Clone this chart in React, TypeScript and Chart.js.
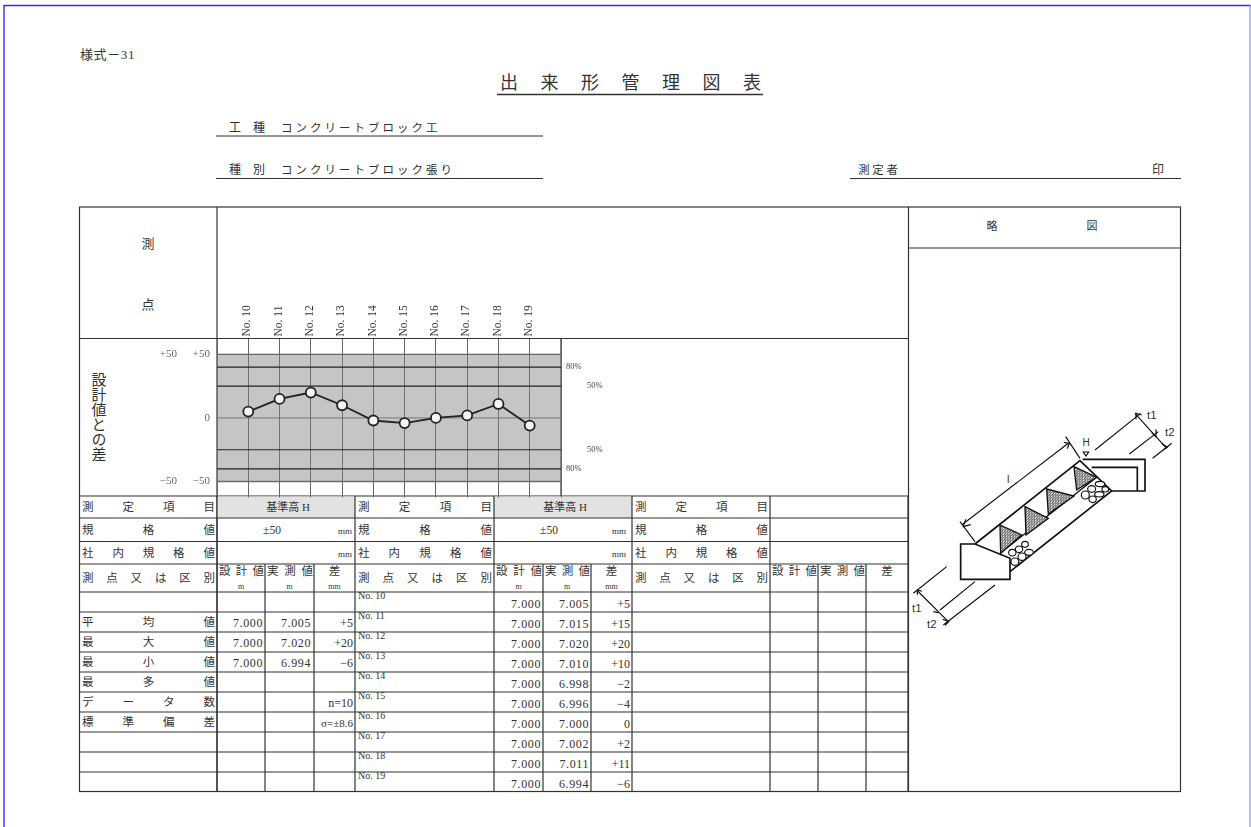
import React, { useEffect, useRef } from "react";
import { Chart, registerables } from "chart.js";

Chart.register(...registerables);

const FONT = '"Liberation Serif", "Noto Sans CJK JP", serif';
const SANS = '"Liberation Sans", sans-serif';
const INK = "#333";

const categories = ["", "No. 10", "No. 11", "No. 12", "No. 13", "No. 14", "No. 15", "No. 16", "No. 17", "No. 18", "No. 19", ""];
const differences = [null, 5, 15, 20, 10, -2, -4, 0, 2, 11, -6, null];
const limitUpper = [50, 50, 50, 50, 50, 50, 50, 50, 50, 50, 50, 50];
const limitLower = [-50, -50, -50, -50, -50, -50, -50, -50, -50, -50, -50, -50];
const band80Upper = [40, 40, 40, 40, 40, 40, 40, 40, 40, 40, 40, 40];
const band80Lower = [-40, -40, -40, -40, -40, -40, -40, -40, -40, -40, -40, -40];
const band50Upper = [25, 25, 25, 25, 25, 25, 25, 25, 25, 25, 25, 25];
const band50Lower = [-25, -25, -25, -25, -25, -25, -25, -25, -25, -25, -25, -25];
const zeroLine = [0, 0, 0, 0, 0, 0, 0, 0, 0, 0, 0, 0];

const rowLabels = ["No. 10", "No. 11", "No. 12", "No. 13", "No. 14", "No. 15", "No. 16", "No. 17", "No. 18", "No. 19"];
const designValues = ["7.000", "7.000", "7.000", "7.000", "7.000", "7.000", "7.000", "7.000", "7.000", "7.000"];
const measuredValues = ["7.005", "7.015", "7.020", "7.010", "6.998", "6.996", "7.000", "7.002", "7.011", "6.994"];
const diffLabels = ["+5", "+15", "+20", "+10", "−2", "−4", "0", "+2", "+11", "−6"];

const statNames = ["平均値", "最大値", "最小値", "最多値", "データ数", "標準偏差"];
const statDesign = ["7.000", "7.000", "7.000", "", "", ""];
const statMeasured = ["7.005", "7.020", "6.994", "", "", ""];
const statDiff = ["+5", "+20", "−6", "", "n=10", "σ=±8.6"];

const ROWS = [592, 612, 632, 652, 672, 692, 712, 732, 752, 772, 792];
const BLOCKS = [
  { a: 79, b: 217, c: 265, d: 314, e: 355 },
  { a: 355, b: 494, c: 543, d: 591, e: 632 },
  { a: 632, b: 770, c: 818, d: 866, e: 908 },
];

function Spread({ text, x1, x2, y, size = 12 }: any) {
  const chars = Array.from(text as string);
  const step = (x2 - x1 - size) / Math.max(1, chars.length - 1);
  const xs = chars.map((_, i) => (x1 + i * step).toFixed(1)).join(" ");
  return (
    <text x={xs} y={y} fontSize={size} fill={INK}>
      {text}
    </text>
  );
}

function T({ x, y, s = 12, a = "start", ls, f, children }: any) {
  return (
    <text x={x} y={y} fontSize={s} textAnchor={a} fill={INK} letterSpacing={ls} fontFamily={f}>
      {children}
    </text>
  );
}

function L({ x1, y1, x2, y2, w = 1.2, c = "#333" }: any) {
  return <line x1={x1} y1={y1} x2={x2} y2={y2} stroke={c} strokeWidth={w} />;
}

function Sheet() {
  return (
    <svg
      width={1251}
      height={827}
      style={{ position: "absolute", left: 0, top: 0, fontFamily: FONT }}
    >
      <defs>
        <pattern id="grit" width="8" height="8" patternUnits="userSpaceOnUse">
          <rect width="8" height="8" fill="#fff" />
          <circle cx="2" cy="2" r="1.9" fill="#111" />
          <circle cx="6" cy="3.5" r="1.8" fill="#111" />
          <circle cx="3.5" cy="6.5" r="1.7" fill="#111" />
        </pattern>
      </defs>
      <line x1={4} y1={5.5} x2={1251} y2={5.5} stroke="#2a2aff" strokeWidth={1.6} />
      <line x1={4} y1={5} x2={4} y2={827} stroke="#3a3aff" strokeWidth={1.5} />
      <line x1={1250} y1={5} x2={1250} y2={827} stroke="#8a8aff" strokeWidth={1.2} />

      <T x={80} y={59} s={13} ls={0.6}>様式－31</T>
      <Spread text="出来形管理図表" x1={500} x2={761} y={89} size={18} />
      <L x1={497} y1={94.5} x2={763} y2={94.5} w={1.4} />
      <Spread text="工種" x1={229} x2={265} y={132} size={12} />
      <T x={281} y={132} s={11.5} ls={3}>コンクリートブロック工</T>
      <L x1={216} y1={136} x2={543} y2={136} />
      <Spread text="種別" x1={229} x2={265} y={174} size={12} />
      <T x={281} y={174} s={11.5} ls={3}>コンクリートブロック張り</T>
      <L x1={216} y1={178.5} x2={543} y2={178.5} />
      <Spread text="測定者" x1={858} x2={898} y={174} size={11.5} />
      <T x={1152} y={174} s={12}>印</T>
      <L x1={850} y1={178.5} x2={1181} y2={178.5} />

      {/* outer frame */}
      <rect x={79.5} y={207} width={1101} height={584.5} fill="none" stroke="#333" strokeWidth={1.2} />
      <L x1={217} y1={207} x2={217} y2={792} />
      <L x1={908.5} y1={207} x2={908.5} y2={792} />
      <L x1={908} y1={248} x2={1180} y2={248} />
      <L x1={79} y1={338.5} x2={908} y2={338.5} />
      <L x1={79} y1={496} x2={908} y2={496} />
      <L x1={561} y1={338} x2={561} y2={496} />

      <T x={148} y={248} s={13} a="middle">測</T>
      <T x={148} y={309} s={13} a="middle">点</T>
      <T x={992} y={230} s={11} a="middle">略</T>
      <T x={1092} y={230} s={11} a="middle">図</T>
      <text x={96} y={417} fontSize={15} fill={INK} textAnchor="middle" style={{ writingMode: "vertical-rl" as any }} dominantBaseline="middle">
        設計値との差
      </text>

      {/* shaded measurement item cells */}
      <rect x={217} y={496.5} width={138} height={21.5} fill="#e2e2e2" />
      <rect x={494} y={496.5} width={138} height={21.5} fill="#e2e2e2" />
      <T x={288} y={511} s={11} a="middle">基準高 H</T>
      <T x={565} y={511} s={11} a="middle">基準高 H</T>
      <T x={272} y={534} s={11.5} a="middle">±50</T>
      <T x={549} y={534} s={11.5} a="middle">±50</T>
      <T x={338} y={534} s={9}>mm</T>
      <T x={338} y={557} s={9}>mm</T>
      <T x={612} y={534} s={9}>mm</T>
      <T x={612} y={557} s={9}>mm</T>

      {[518, 541.5, 564, 592, 612, 632, 652, 672, 692, 712, 732, 752, 772].map((y) => (
        <L key={y} x1={79} y1={y} x2={908} y2={y} />
      ))}

      {BLOCKS.map((b, i) => (
        <g key={i}>
          <L x1={b.e} y1={496} x2={b.e} y2={792} />
          <L x1={b.b} y1={496} x2={b.b} y2={792} />
          <L x1={b.c} y1={564} x2={b.c} y2={792} />
          <L x1={b.d} y1={564} x2={b.d} y2={792} />
          <Spread text="測定項目" x1={b.a + 3} x2={b.b - 2} y={511} size={11.5} />
          <Spread text="規格値" x1={b.a + 3} x2={b.b - 2} y={534} size={11.5} />
          <Spread text="社内規格値" x1={b.a + 3} x2={b.b - 2} y={557} size={11.5} />
          <Spread text="測点又は区別" x1={b.a + 3} x2={b.b - 2} y={582} size={11.5} />
          <Spread text="設計値" x1={b.b + 2} x2={b.c - 1} y={575} size={11.5} />
          <Spread text="実測値" x1={b.c + 2} x2={b.d - 1} y={575} size={11.5} />
          <T x={(b.d + b.e) / 2} y={575} s={11.5} a="middle">差</T>
          {i < 2 && (
            <>
              <T x={(b.b + b.c) / 2} y={589} s={8} a="middle">m</T>
              <T x={(b.c + b.d) / 2} y={589} s={8} a="middle">m</T>
              <T x={(b.d + b.e) / 2} y={589} s={8} a="middle">mm</T>
            </>
          )}
        </g>
      ))}

      {statNames.map((name, i) => {
        const top = ROWS[i + 1];
        return (
          <g key={name}>
            <Spread text={name} x1={82} x2={215} y={top + 14} size={11.5} />
            <T x={263} y={top + 15} s={12} a="end" ls={0.6}>{statDesign[i]}</T>
            <T x={311} y={top + 15} s={12} a="end" ls={0.6}>{statMeasured[i]}</T>
            <T x={353} y={top + 15} s={i === 5 ? 11 : 12} a="end">{statDiff[i]}</T>
          </g>
        );
      })}

      {rowLabels.map((name, i) => {
        const top = ROWS[i];
        return (
          <g key={name}>
            <T x={358} y={top + 7} s={10}>{name}</T>
            <T x={541} y={top + 16} s={12} a="end" ls={0.6}>{designValues[i]}</T>
            <T x={589} y={top + 16} s={12} a="end" ls={0.6}>{measuredValues[i]}</T>
            <T x={630} y={top + 16} s={12} a="end">{diffLabels[i]}</T>
          </g>
        );
      })}

      {/* sketch */}
      <g transform="translate(900 390) scale(0.3333)" fill="none" stroke="#111" strokeWidth={5}>
        <path d="M182 462 H225 L330 505 V568 H182 Z" />
        <path d="M225 462 L540 212 L635 303 L330 545" />
        <path d="M548 208 H735 V303 H635 M575 232 H712 V303" />
        <path d="M300 490 L590 262" strokeWidth={4} />
        <path d="M300 405 L365 435 L302 490 Z" fill="url(#grit)" strokeWidth={4} />
        <path d="M375 350 L445 385 L378 435 Z" fill="url(#grit)" strokeWidth={4} />
        <path d="M440 297 L522 318 L445 372 Z" fill="url(#grit)" strokeWidth={4} />
        <path d="M522 230 L590 262 L530 300 Z" fill="url(#grit)" strokeWidth={4} />
        <g strokeWidth={3.5} fill="#fff">
          <ellipse cx="345" cy="515" rx="12" ry="11" />
          <ellipse cx="366" cy="500" rx="12" ry="11" />
          <ellipse cx="387" cy="487" rx="13" ry="9" />
          <ellipse cx="337" cy="488" rx="11" ry="10" />
          <ellipse cx="357" cy="478" rx="11" ry="10" />
          <ellipse cx="375" cy="463" rx="10" ry="9" />
          <ellipse cx="556" cy="315" rx="12" ry="12" />
          <ellipse cx="578" cy="328" rx="11" ry="10" />
          <ellipse cx="598" cy="313" rx="14" ry="8" />
          <ellipse cx="575" cy="297" rx="12" ry="10" />
          <ellipse cx="600" cy="282" rx="14" ry="8" />
          <ellipse cx="616" cy="298" rx="10" ry="8" />
        </g>
        <g strokeWidth={3.5}>
          <path d="M185 405 L505 160 M225 455 L180 395 M540 205 L497 140" />
          <path d="M585 180 L722 70 M688 192 L775 125 M758 205 L815 160 M705 70 L800 175" />
          <path d="M40 610 L140 530 M120 660 L225 575 M130 705 L285 585 M50 600 L145 695" />
          <path d="M550 186 H566 L558 198 Z" />
          <path d="M197 388 L190 410 L212 404 M492 157 L508 160 L502 176" />
          <path d="M708 88 L708 70 L725 75 M768 118 L768 140 L755 128 M785 160 L802 172 L790 180" />
          <path d="M52 614 L52 600 L66 604 M100 665 L115 668 M128 688 L146 695 L135 706" />
        </g>
      </g>
      <T x={1007} y={483} s={11} f={SANS}>l</T>
      <T x={1086} y={446} s={10} a="middle" f={SANS}>H</T>
      <T x={1147} y={419} s={11.5} f={SANS}>t1</T>
      <T x={1165} y={436} s={11.5} f={SANS}>t2</T>
      <T x={912} y={612} s={11.5} f={SANS}>t1</T>
      <T x={927} y={628} s={11.5} f={SANS}>t2</T>
    </svg>
  );
}

const axisTicks = (values: number[]) => (scale: any) => {
  scale.ticks = values.map((value) => ({ value }));
};

const fixedWidth = (w: number) => (scale: any) => {
  scale.width = w;
};

export default function App() {
  const ref = useRef<HTMLCanvasElement | null>(null);

  useEffect(() => {
    document.body.style.margin = "0";
    const bandLine = (data: number[], color = "#222", width = 1.2, extra = {}) => ({
      data,
      borderColor: color,
      borderWidth: width,
      pointRadius: 0,
      fill: false,
      order: 5,
      ...extra,
    });
    const tickFont = { family: FONT, size: 11 };
    const hiddenAxis = {
      min: -62.5,
      max: 62.5,
      axis: "y",
      clip: false,
      grid: { display: false, drawTicks: false },
      border: { display: false },
    };
    const chart = new Chart(ref.current as HTMLCanvasElement, {
      type: "line",
      data: {
        labels: categories,
        datasets: [
          {
            label: "差",
            data: differences,
            borderColor: "#222",
            borderWidth: 1.8,
            pointRadius: 5,
            pointBorderWidth: 1.8,
            pointBackgroundColor: "#f4f4f4",
            pointBorderColor: "#222",
            tension: 0,
            fill: false,
            order: 0,
          },
          bandLine(band80Upper),
          bandLine(band80Lower),
          bandLine(band50Upper),
          bandLine(band50Lower),
          bandLine(zeroLine, "#777", 1),
          bandLine(limitUpper, "#666", 1.4, { fill: "+1", backgroundColor: "rgba(128,128,128,0.46)", order: 9 }),
          bandLine(limitLower, "#666", 1.4, { order: 9 }),
        ] as any,
      },
      options: {
        responsive: false,
        animation: false,
        layout: { padding: { left: 137, right: 6, top: 298, bottom: 4 } },
        plugins: { legend: { display: false }, tooltip: { enabled: false } },
        scales: {
          x: {
            position: "top",
            offset: false,
            clip: false,
            grid: { color: "#666", lineWidth: 1, drawTicks: false },
            border: { display: false },
            ticks: {
              autoSkip: false,
              minRotation: 90,
              maxRotation: 90,
              padding: 2,
              labelOffset: 13,
              color: INK,
              font: { family: FONT, size: 11.5 },
            },
            afterFit: (s: any) => {
              s.height = 40.5;
            },
          },
          y: {
            ...hiddenAxis,
            position: "left",
            weight: 0,
            afterFit: fixedWidth(38),
            afterBuildTicks: axisTicks([-50, 0, 50]),
            ticks: {
              color: "#666",
              font: tickFont,
              padding: 7,
              callback: (v: any) => (v > 0 ? "+50" : v < 0 ? "−50" : "0"),
            },
          },
          y2: {
            ...hiddenAxis,
            position: "left",
            weight: 1,
            afterFit: fixedWidth(42),
            afterBuildTicks: axisTicks([-50, 50]),
            ticks: {
              color: "#666",
              font: tickFont,
              padding: 2,
              callback: (v: any) => (v > 0 ? "+50" : "−50"),
            },
          },
          yR1: {
            ...hiddenAxis,
            position: "right",
            weight: 0,
            afterFit: fixedWidth(23),
            afterBuildTicks: axisTicks([-40, 40]),
            ticks: { color: "#444", font: { family: FONT, size: 8.5 }, padding: 5, callback: () => "80%" },
          },
          yR2: {
            ...hiddenAxis,
            position: "right",
            weight: 1,
            afterFit: fixedWidth(30),
            afterBuildTicks: axisTicks([-25, 25]),
            ticks: { color: "#444", font: { family: FONT, size: 8.5 }, padding: 3, callback: () => "50%" },
          },
        } as any,
      },
    });
    return () => chart.destroy();
  }, []);

  return (
    <div style={{ position: "relative", width: 1251, height: 827, overflow: "hidden", background: "#fff", filter: "blur(0.35px)" }}>
      <Sheet />
      <canvas
        ref={ref}
        width={620}
        height={511}
        style={{ position: "absolute", left: 0, top: 0, display: "block" }}
      />
    </div>
  );
}
